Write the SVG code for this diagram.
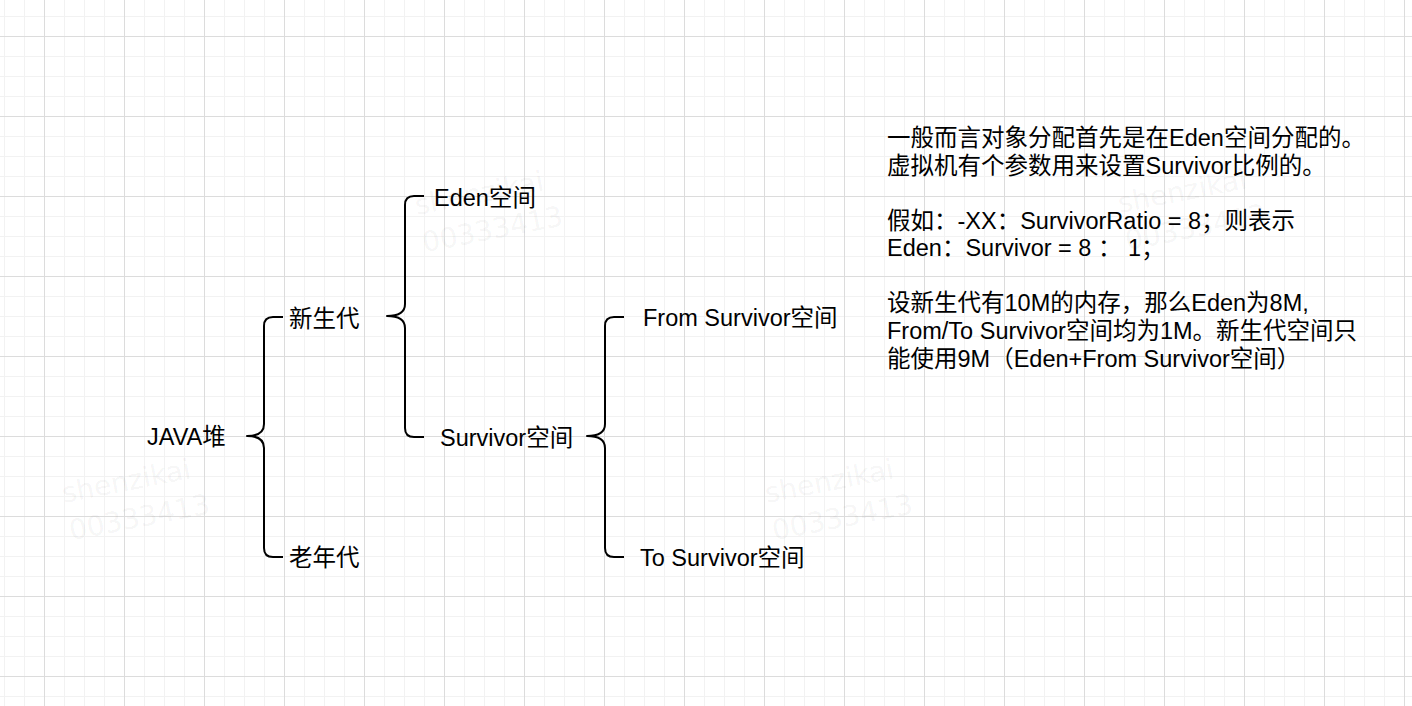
<svg xmlns="http://www.w3.org/2000/svg" width="1412" height="706" viewBox="0 0 1412 706">
  <defs>
    <pattern id="grid" x="44" y="36" width="80" height="80" patternUnits="userSpaceOnUse">
      <rect x="0" y="0" width="80" height="80" fill="#ffffff"/>
      <rect x="20" y="0" width="1" height="80" fill="#f2f2f2"/>
      <rect x="40" y="0" width="1" height="80" fill="#f2f2f2"/>
      <rect x="60" y="0" width="1" height="80" fill="#f2f2f2"/>
      <rect x="0" y="20" width="80" height="1" fill="#f2f2f2"/>
      <rect x="0" y="40" width="80" height="1" fill="#f2f2f2"/>
      <rect x="0" y="60" width="80" height="1" fill="#f2f2f2"/>
      <rect x="0" y="0" width="1" height="80" fill="#dcdcdc"/>
      <rect x="0" y="0" width="80" height="1" fill="#dcdcdc"/>
    </pattern>
    <style>
      .lbl { font-family: "Liberation Sans", "Noto Sans CJK SC", sans-serif; font-size: 23.5px; fill: #000; }
      .note { font-family: "Liberation Sans", "Noto Sans CJK SC", sans-serif; font-size: 23.5px; fill: #000; }
      .brace { fill: none; stroke: #000; stroke-width: 2; stroke-linejoin: round; }
      .wm { font-family: "DejaVu Sans", sans-serif; font-size: 28px; fill: #000; fill-opacity: 0.05; }
    </style>
  </defs>
  <rect x="0" y="0" width="1412" height="706" fill="url(#grid)"/>

  <g id="watermarks">
    <g transform="translate(64,503) rotate(-11)"><text class="wm" x="0" y="0">shenzikai</text><text class="wm" x="0" y="38">00333413</text></g>
    <g transform="translate(767,503) rotate(-11)"><text class="wm" x="0" y="0">shenzikai</text><text class="wm" x="0" y="38">00333413</text></g>
    <g transform="translate(417,215) rotate(-11)"><text class="wm" x="0" y="0">shenzikai</text><text class="wm" x="0" y="38">00333413</text></g>
    <g transform="translate(1120,213) rotate(-11)"><text class="wm" x="0" y="0">shenzikai</text><text class="wm" x="0" y="38">00333413</text></g>
  </g>

  <g id="connectors">
    <path class="brace" d="M283,317 H273 Q264,317 264,326 V424 Q264,436 247,436 Q264,436 264,448 V548 Q264,557 273,557 H283"/>
    <path class="brace" d="M424,196 H414 Q405,196 405,205 V304 Q405,316 387,316 Q405,316 405,328 V428 Q405,437 414,437 H424"/>
    <path class="brace" d="M624,317 H614 Q605,317 605,326 V424 Q605,436 587,436 Q605,436 605,448 V548 Q605,557 614,557 H624"/>
  </g>

  <g id="node-java"><text class="lbl" x="147" y="445">JAVA堆</text></g>
  <g id="node-young"><text class="lbl" x="289" y="327">新生代</text></g>
  <g id="node-old"><text class="lbl" x="289" y="566">老年代</text></g>
  <g id="node-eden"><text class="lbl" x="434" y="206">Eden空间</text></g>
  <g id="node-survivor"><text class="lbl" x="440" y="446">Survivor空间</text></g>
  <g id="node-from"><text class="lbl" x="643" y="326">From Survivor空间</text></g>
  <g id="node-to"><text class="lbl" x="640" y="566">To Survivor空间</text></g>

  <g id="node-note">
    <text class="note">
      <tspan x="887" y="146">一般而言对象分配首先是在Eden空间分配的。</tspan>
      <tspan x="887" y="173.5">虚拟机有个参数用来设置Survivor比例的。</tspan>
      <tspan x="887" y="228.5">假如：-XX：SurvivorRatio = 8；则表示</tspan>
      <tspan x="887" y="256">Eden：Survivor = 8 ： 1；</tspan>
      <tspan x="887" y="311">设新生代有10M的内存，那么Eden为8M,</tspan>
      <tspan x="887" y="339">From/To Survivor空间均为1M。新生代空间只</tspan>
      <tspan x="887" y="366.5">能使用9M（Eden+From Survivor空间）</tspan>
    </text>
  </g>
</svg>
